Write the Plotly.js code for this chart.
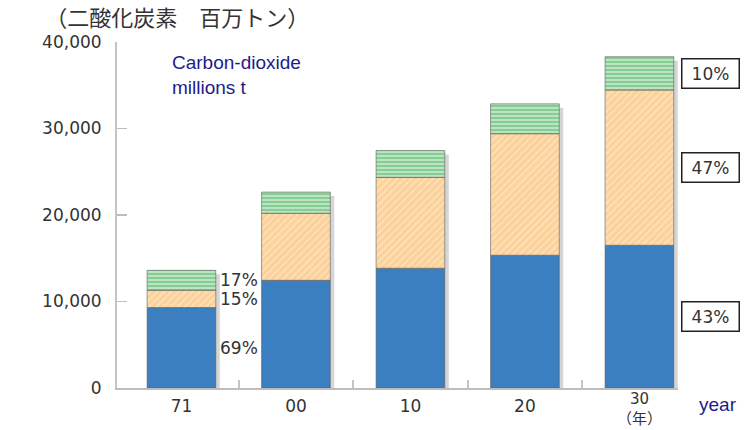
<!DOCTYPE html>
<html>
<head>
<meta charset="utf-8">
<script src="https://cdn.plot.ly/plotly-3.0.1.min.js"></script>
<style>
  html, body { margin: 0; padding: 0; background: #ffffff; }
  #chart { width: 754px; height: 430px; }
</style>
</head>
<body>
<div id="chart"></div>
<script>
// ---- data ----
const categories = ['71', '00', '10', '20', '30'];
const lowerSeries = [9300, 12450, 13850, 15350, 16500];   // blue
const middleSeries = [2000, 7750, 10500, 14050, 17950];   // orange
const upperSeries = [2300, 2450, 3100, 3450, 3850];       // green
const firstShares = ['69%', '15%', '17%'];                // 71: blue, orange, green
const lastShares = ['43%', '47%', '10%'];                 // 30: blue, orange, green
const yearUnit = '（年）';
const yTickVals = [0, 10000, 20000, 30000, 40000];
const yTickText = ['0', '10,000', '20,000', '30,000', '40,000'];
const boundaryTicks = [0.5, 1.5, 2.5, 3.5];

// ---- derived ----
const middleBase = lowerSeries.slice();
const upperBase = lowerSeries.map((v, i) => v + middleSeries[i]);
const totals = upperBase.map((v, i) => v + upperSeries[i]);
const firstIdx = 0;
const lastIdx = categories.length - 1;
// last category label is drawn raised, with the unit below it (as in the reference)
const xTickText = categories.map((c, i) => (i === lastIdx ? '' : c));

const BAR_W = 0.6;
const lineStyle = { color: 'rgba(90,90,90,0.75)', width: 0.8 };

const traces = [
  { // soft shadow to the right of each stack
    type: 'bar', x: categories, y: totals.map(v => v - 450), base: 0,
    width: BAR_W, offset: -BAR_W / 2 + 0.035,
    marker: { color: '#d6d6d6', line: { width: 0 } },
    hoverinfo: 'skip', showlegend: false
  },
  {
    type: 'bar', x: categories, y: lowerSeries, base: 0,
    width: BAR_W, offset: -BAR_W / 2,
    marker: { color: '#3b7fc0', line: lineStyle },
    showlegend: false
  },
  {
    type: 'bar', x: categories, y: middleSeries, base: middleBase,
    width: BAR_W, offset: -BAR_W / 2,
    marker: {
      color: '#fcd49e', line: lineStyle,
      pattern: { shape: '/', fgcolor: '#fde6c6', bgcolor: '#fcd29a', size: 5, solidity: 0.25, fillmode: 'replace' }
    },
    showlegend: false
  },
  {
    type: 'bar', x: categories, y: upperSeries, base: upperBase,
    width: BAR_W, offset: -BAR_W / 2,
    marker: {
      color: '#8fd19d', line: lineStyle,
      pattern: { shape: '-', fgcolor: '#d2efd4', bgcolor: '#86cc95', size: 4, solidity: 0.35, fillmode: 'replace' }
    },
    showlegend: false
  },
  { // carrier for the overlaid boundary-tick axis
    type: 'scatter', x: boundaryTicks, y: boundaryTicks.map(() => 0), xaxis: 'x2',
    mode: 'markers', marker: { opacity: 0 }, hoverinfo: 'skip', showlegend: false
  }
];

const numFont = { family: 'DejaVu Sans', size: 17, color: '#333333' };
const navyFont = { family: 'Liberation Sans, Arial', size: 19, color: '#1c1c8c' };

const annotations = [];
// shares of the first bar, at segment midpoints
const firstMids = [
  lowerSeries[firstIdx] / 2,
  middleBase[firstIdx] + middleSeries[firstIdx] / 2,
  upperBase[firstIdx] + upperSeries[firstIdx] / 2
];
firstShares.forEach((t, k) => {
  annotations.push({
    x: firstIdx, y: firstMids[k], xref: 'x', yref: 'y',
    text: t, showarrow: false, xanchor: 'left', yanchor: 'middle', xshift: 37,
    font: numFont
  });
});
// boxed shares of the last bar
const lastMids = [
  lowerSeries[lastIdx] / 2,
  middleBase[lastIdx] + middleSeries[lastIdx] / 2,
  upperBase[lastIdx] + upperSeries[lastIdx] / 2
];
lastShares.forEach((t, k) => {
  annotations.push({
    x: lastIdx, y: lastMids[k], xref: 'x', yref: 'y',
    text: t, showarrow: false, xanchor: 'left', yanchor: 'middle', xshift: 42,
    font: numFont, bgcolor: '#ffffff', bordercolor: '#222222', borderwidth: 1.5,
    borderpad: 3, width: 50, height: 22, align: 'center'
  });
});
annotations.push({
  x: 0.0945, y: 0.905, xref: 'paper', yref: 'paper',
  text: 'Carbon-dioxide<br>millions t', showarrow: false,
  xanchor: 'left', yanchor: 'middle', align: 'left', font: navyFont
});
annotations.push({
  x: 1.034, y: -0.049, xref: 'paper', yref: 'paper',
  text: 'year', showarrow: false, xanchor: 'left', yanchor: 'middle', font: navyFont
});
// last category label, raised, with the year unit beneath (one two-line text)
annotations.push({
  x: lastIdx, y: 0, xref: 'x', yref: 'paper', yshift: -1,
  text: categories[lastIdx] + '<br>' + yearUnit, showarrow: false,
  xanchor: 'center', yanchor: 'top', align: 'center', borderpad: 0,
  font: { family: 'DejaVu Sans, Noto Sans CJK JP', size: 15, color: '#333333' }
});

const layout = {
  width: 754, height: 430,
  margin: { l: 117, r: 76, t: 42, b: 42, pad: 0 },
  paper_bgcolor: '#ffffff', plot_bgcolor: '#ffffff',
  barmode: 'overlay',
  title: {
    text: '（二酸化炭素　百万トン）',
    xref: 'container', yref: 'container', x: 0.235, y: 0.958,
    xanchor: 'center', yanchor: 'middle',
    font: { family: 'Noto Sans CJK JP', size: 22, color: '#333333' }
  },
  xaxis: {
    type: 'category', range: [-0.563, 4.337],
    tickmode: 'array', tickvals: categories, ticktext: xTickText,
    showline: true, linecolor: '#bdbdbd', linewidth: 2,
    ticks: '', showgrid: false, zeroline: false,
    tickfont: numFont, ticklabelstandoff: 2, fixedrange: true
  },
  xaxis2: {
    overlaying: 'x', type: 'linear', range: [-0.563, 4.337],
    tickmode: 'array', tickvals: boundaryTicks, showticklabels: false,
    ticks: 'inside', ticklen: 8, tickcolor: '#c4c4c4', tickwidth: 2,
    showline: false, showgrid: false, zeroline: false, fixedrange: true
  },
  yaxis: {
    range: [0, 40000], tickmode: 'array', tickvals: yTickVals, ticktext: yTickText,
    showline: true, linecolor: '#c4c4c4', linewidth: 2,
    ticks: 'inside', ticklen: 10, tickcolor: '#bdbdbd', tickwidth: 1.5,
    showgrid: false, zeroline: false,
    tickfont: numFont, ticklabelstandoff: 10, fixedrange: true
  },
  annotations: annotations,
  showlegend: false
};

Plotly.newPlot('chart', traces, layout, { displayModeBar: false, staticPlot: true });
</script>
</body>
</html>
